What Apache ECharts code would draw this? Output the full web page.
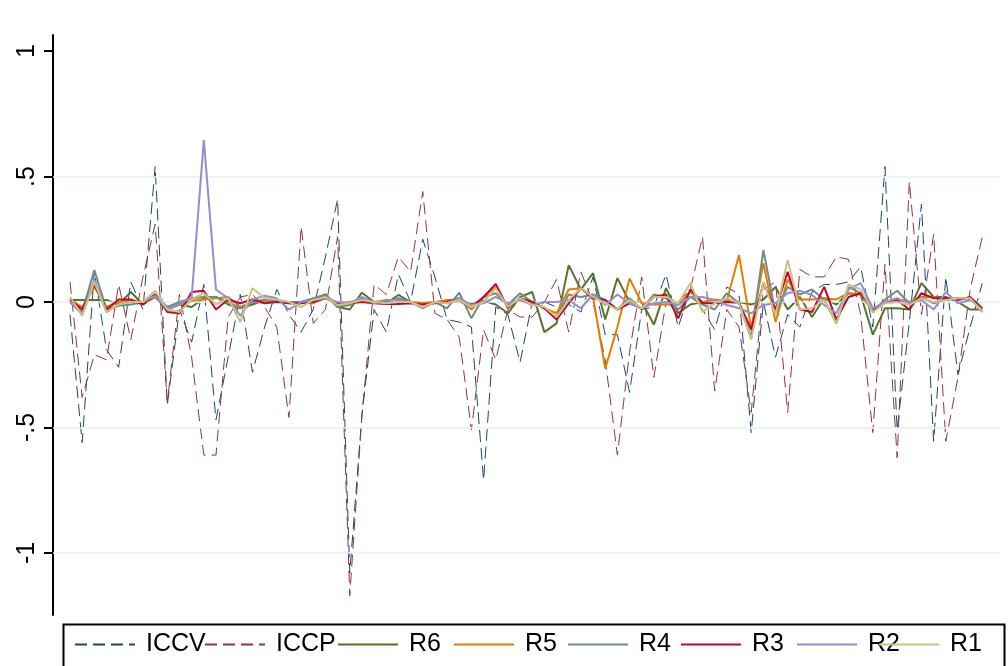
<!DOCTYPE html>
<html>
<head>
<meta charset="utf-8">
<script src="https://cdn.jsdelivr.net/npm/echarts@6/dist/echarts.min.js"></script>
<style>
  html, body { margin: 0; padding: 0; background: #fff; }
  #chart { width: 1008px; height: 666px; }
</style>
</head>
<body>
<div id="chart"></div>
<script>
// 数据：每条序列 76 个点
const names = ['ICCV', 'ICCP', 'R6', 'R5', 'R4', 'R3', 'R2', 'R1']
const yTicks = [-1, -0.5, 0, 0.5, 1]
const yTickLabels = ['-1', '-.5', '0', '.5', '1']
const gridValues = [-1, -0.5, 0, 0.5]

const iccv = [
  -0.05, -0.56, 0.12, -0.19, -0.26, 0.08, -0.03, 0.54, -0.41, -0.03,
  -0.16, 0.07, -0.47, -0.22, 0.03, -0.28, -0.1, 0.05, -0.05, -0.12,
  -0.03, 0.18, 0.41, -1.08, -0.45, -0.03, -0.12, 0.11, 0.0, 0.25,
  0.1, -0.07, -0.08, -0.1, -0.71, -0.02, -0.05, -0.24, 0.0, 0.0,
  -0.02, -0.01, -0.04, 0.1, -0.13, -0.13, -0.36, -0.03, -0.02, 0.11,
  -0.1, 0.05, -0.03, -0.11, 0.06, 0.03, -0.52, 0.0, -0.22, -0.05,
  -0.1, 0.04, 0.07, 0.07, 0.08, 0.14, -0.1, 0.54, -0.51, -0.08,
  0.39, -0.555, 0.1, -0.29, -0.1, 0.075
]
const iccp = [
  0.08, -0.38, -0.21, -0.23, 0.07, -0.15, 0.1, 0.31, -0.4, 0.03,
  -0.22, -0.61, -0.61, -0.06, 0.02, 0.03, -0.02, -0.1, -0.46, 0.3,
  -0.085, -0.03, 0.26, -1.17, -0.45, 0.07, 0.03, 0.18, 0.12, 0.44,
  -0.045, -0.07, -0.14, -0.51, -0.11, -0.23, -0.03, -0.06, -0.06, 0.0,
  0.09, -0.12, 0.12, 0.0, -0.23, -0.61, -0.2, 0.1, -0.3, 0.0,
  0.0, 0.05, 0.26, -0.355, -0.03, -0.1, -0.44, 0.05, 0.08, -0.44,
  0.13, 0.1, 0.1, 0.18, 0.17, -0.05, -0.52, 0.15, -0.62, 0.48,
  -0.05, 0.27, -0.555, -0.3, 0.05, 0.26
]
const r6 = [
  0.008, 0.008, 0.008, 0.008, -0.01, 0.04, -0.01, 0.02, -0.03, -0.01,
  -0.02, 0.015, 0.02, -0.01, -0.025, -0.01, 0.008, 0.005, -0.005, -0.005,
  0.008, 0.03, -0.02, -0.03, 0.037, 0.0, -0.005, 0.028, 0.0, -0.003,
  0.0, 0.0, 0.0, -0.005, 0.005, -0.01, -0.045, 0.02, 0.04, -0.12,
  -0.085, 0.147, 0.05, 0.115, -0.07, 0.095, 0.0, 0.0, -0.09, 0.055,
  -0.045, -0.01, 0.0, 0.0, 0.008, 0.0, -0.01, 0.01, 0.06, -0.03,
  0.02, -0.06, 0.015, -0.01, 0.035, 0.03, -0.13, -0.025, -0.025, -0.03,
  0.075, 0.02, 0.02, 0.0, -0.03, -0.03
]
const r5 = [
  0.01, -0.02, 0.06, -0.02, 0.0, 0.005, 0.0, 0.02, -0.02, -0.01,
  0.005, 0.01, 0.015, 0.02, -0.02, 0.0, 0.005, 0.0, 0.0, 0.0,
  -0.005, 0.02, -0.005, 0.0, 0.008, 0.0, 0.008, 0.008, 0.0, -0.005,
  0.0, 0.008, 0.008, -0.03, 0.02, 0.06, -0.02, 0.015, 0.0, -0.025,
  -0.045, 0.05, 0.055, 0.02, -0.265, -0.1, 0.094, -0.005, -0.01, -0.01,
  -0.01, 0.04, 0.0, 0.01, 0.005, 0.187, -0.105, 0.155, -0.08, 0.09,
  0.01, 0.01, 0.015, 0.01, 0.035, 0.03, -0.03, 0.0, 0.01, 0.0,
  0.02, 0.02, 0.01, 0.015, 0.015, -0.03
]
const r4 = [
  0.0, -0.04, 0.127, -0.03, -0.015, -0.01, 0.0, 0.03, -0.02, 0.0,
  0.015, 0.02, 0.02, 0.0, -0.025, 0.0, 0.01, 0.005, 0.0, 0.0,
  0.015, 0.03, -0.02, -0.012, 0.015, 0.0, 0.0, 0.015, 0.0, -0.02,
  0.0, -0.025, 0.037, -0.065, 0.02, 0.035, -0.012, 0.035, 0.0, -0.025,
  -0.06, 0.03, 0.02, 0.03, 0.008, -0.03, 0.015, -0.03, 0.03, 0.015,
  -0.03, 0.02, -0.01, -0.03, 0.035, -0.005, -0.14, 0.207, -0.045, 0.06,
  0.03, 0.05, 0.01, -0.085, 0.06, 0.035, -0.04, 0.01, 0.045, -0.005,
  0.02, -0.005, 0.01, 0.015, 0.015, -0.04
]
const r3 = [
  0.01, -0.03, 0.07, -0.03, 0.01, 0.01, -0.01, 0.03, -0.04, -0.045,
  0.04, 0.045, -0.03, 0.01, -0.005, 0.01, -0.005, 0.0, -0.005, -0.005,
  0.0, 0.015, -0.005, -0.005, 0.0, -0.005, -0.008, -0.008, -0.005, -0.01,
  -0.005, 0.0, 0.015, -0.02, 0.02, 0.072, -0.025, 0.015, 0.0, -0.025,
  -0.07, -0.005, 0.055, 0.015, 0.008, -0.03, -0.005, -0.025, 0.02, 0.03,
  -0.065, 0.05, -0.005, -0.005, 0.0, -0.003, -0.11, 0.075, -0.03, 0.12,
  -0.03, -0.04, 0.06, -0.07, 0.02, 0.035, -0.03, 0.0, 0.008, -0.03,
  0.035, 0.015, 0.015, 0.008, 0.02, -0.025
]
const r2 = [
  0.0, -0.05, 0.09, -0.04, -0.01, 0.0, 0.0, 0.025, -0.03, -0.01,
  0.02, 0.645, 0.05, 0.015, -0.055, 0.01, 0.025, 0.015, -0.03, 0.0,
  0.008, 0.015, 0.0, -0.005, 0.02, -0.005, 0.008, 0.008, 0.0, -0.025,
  0.0, -0.005, 0.015, -0.012, -0.005, 0.02, -0.005, 0.008, -0.012, 0.0,
  0.0, 0.008, -0.025, 0.03, -0.012, 0.03, -0.005, -0.025, -0.005, 0.0,
  -0.012, 0.02, 0.02, 0.008, -0.012, -0.025, -0.045, -0.012, -0.005, 0.035,
  0.045, 0.028, -0.012, -0.045, 0.05, 0.075, -0.025, 0.0, 0.015, -0.005,
  0.008, -0.03, 0.04, -0.005, 0.008, -0.03
]
const r1 = [
  0.02, -0.055, 0.08, -0.04, -0.01, 0.0, 0.0, 0.045, -0.03, -0.04,
  0.01, 0.035, -0.01, 0.015, -0.08, 0.055, 0.015, 0.01, 0.0, -0.02,
  0.008, 0.02, -0.012, -0.005, 0.008, 0.0, -0.005, 0.0, 0.0, -0.02,
  0.0, -0.005, 0.008, -0.02, 0.0, 0.055, -0.02, 0.015, -0.012, -0.02,
  -0.06, 0.008, 0.055, 0.02, -0.005, -0.03, 0.008, -0.025, 0.02, 0.02,
  -0.005, 0.075, -0.04, -0.005, 0.015, -0.005, -0.15, 0.08, -0.05, 0.167,
  -0.03, -0.025, 0.008, -0.085, 0.07, 0.05, -0.04, -0.005, 0.0, -0.012,
  0.015, 0.0, 0.008, 0.015, 0.015, -0.04
]

const seriesValues = [iccv, iccp, r6, r5, r4, r3, r2, r1]
const colors = ['#1a476f', '#90353b', '#55752f', '#e37e00', '#6e8e84', '#c10534', '#938dd2', '#cac27e']
const dashed = [true, true, false, false, false, false, false, false]
// 图例每一项的左边位置
const legendLeft = [74, 204, 337, 453, 567, 680, 796, 878]

const font = '"Liberation Sans", Arial, sans-serif'

function buildSeries() {
  const list = [{
    name: 'grid',
    type: 'line',
    data: [],
    z: 1,
    silent: true,
    markLine: {
      silent: true,
      symbol: 'none',
      label: { show: false },
      lineStyle: { color: '#e8f0f2', width: 1.5, type: 'solid' },
      data: gridValues.map(v => ({ yAxis: v }))
    }
  }]
  names.forEach((name, k) => {
    list.push({
      name: name,
      type: 'line',
      z: 2 + k,
      symbol: 'none',
      animation: false,
      data: seriesValues[k].map((v, i) => [i, v]),
      lineStyle: {
        color: colors[k],
        width: dashed[k] ? 1 : 2,
        type: dashed[k] ? [12, 6] : 'solid'
      },
      itemStyle: { color: colors[k] }
    })
  })
  return list
}

const myChart = echarts.init(document.querySelector('#chart'))

const option = {
  backgroundColor: '#fff',
  animation: false,
  grid: {
    left: 53,
    right: 8,
    top: 35,
    bottom: 51
  },
  xAxis: {
    type: 'value',
    min: -1.3976,
    max: 76.455,
    show: false
  },
  yAxis: {
    type: 'value',
    min: -1.247,
    max: 1.0637,
    axisLine: { show: true, onZero: false, lineStyle: { color: '#000', width: 2 } },
    axisTick: {
      show: true,
      length: 9,
      customValues: yTicks,
      lineStyle: { color: '#000', width: 2 }
    },
    axisLabel: {
      customValues: yTicks,
      rotate: 90,
      margin: 13,
      fontSize: 25,
      fontFamily: font,
      color: '#000',
      formatter: v => yTickLabels[yTicks.indexOf(v)]
    },
    splitLine: { show: false }
  },
  legend: names.map((name, k) => ({
    data: [name],
    left: legendLeft[k],
    top: 632,
    itemWidth: 60,
    itemHeight: 14,
    itemGap: 0,
    padding: 0,
    selectedMode: false,
    // 图例只要线，不要圆点
    itemStyle: { opacity: 0 },
    textStyle: {
      fontSize: 25,
      fontFamily: font,
      color: '#000',
      padding: [0, 0, 0, 6]
    }
  })),
  graphic: [{
    type: 'rect',
    shape: { x: 63.5, y: 624.5, width: 941, height: 60 },
    style: { fill: 'none', stroke: '#000', lineWidth: 2 },
    z: 0
  }],
  series: buildSeries()
}

myChart.setOption(option)
</script>
</body>
</html>
